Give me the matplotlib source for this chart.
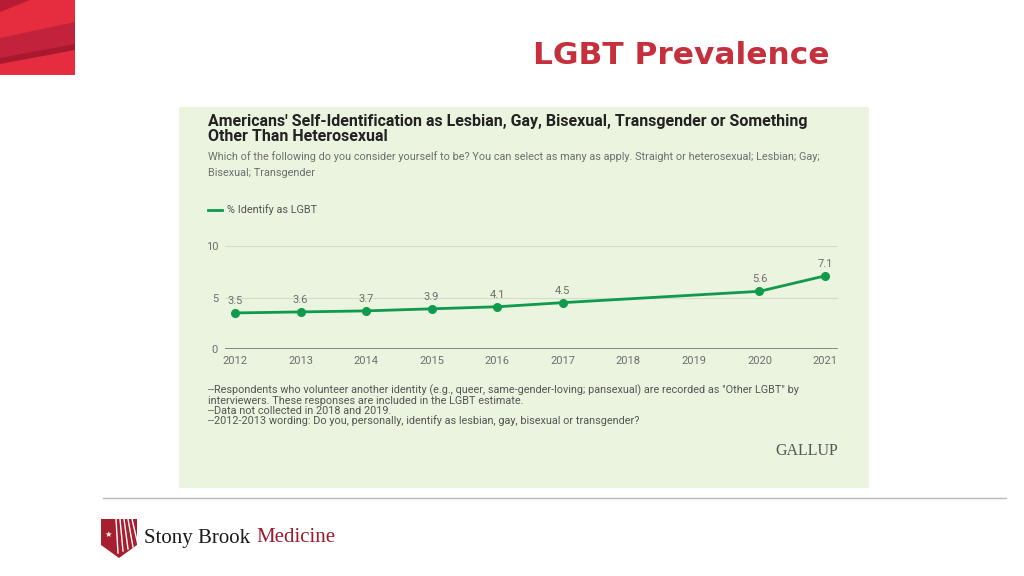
import numpy as np
import matplotlib
matplotlib.use("Agg")
import matplotlib.pyplot as plt
from matplotlib.patches import Rectangle, Polygon
from matplotlib.lines import Line2D

years = [2012, 2013, 2014, 2015, 2016, 2017, 2020, 2021]
pct_lgbt = [3.5, 3.6, 3.7, 3.9, 4.1, 4.5, 5.6, 7.1]
xtick_years = list(range(2012, 2022))
ytick_vals = [0, 5, 10]

slide_title = "LGBT Prevalence"
chart_title = ("Americans' Self-Identification as Lesbian, Gay, Bisexual, Transgender or Something\n"
               "Other Than Heterosexual")
chart_sub = ("Which of the following do you consider yourself to be? You can select as many as apply. "
             "Straight or heterosexual; Lesbian; Gay;\nBisexual; Transgender")
legend_label = "% Identify as LGBT"
notes = ["--Respondents who volunteer another identity (e.g., queer, same-gender-loving; pansexual) "
         "are recorded as \"Other LGBT\" by",
         "interviewers. These responses are included in the LGBT estimate.",
         "--Data not collected in 2018 and 2019.",
         "--2012-2013 wording: Do you, personally, identify as lesbian, gay, bisexual or transgender?"]

W, H = 1024, 576
GREEN = "#0f9a4c"
PANEL = "#ebf4de"
GRAY = "#6e6e6e"


def fx(x):
    return x / W


def fy(y):
    return 1 - y / H


fig = plt.figure(figsize=(W / 100, H / 100), dpi=100)
fig.patch.set_facecolor("white")

# top-left decoration
fig.patches.append(Rectangle((0, fy(75)), fx(75), 75 / H, transform=fig.transFigure,
                             facecolor="#e52d3f", edgecolor="none", zorder=-2))
for pts, col in [([(0, 0), (30, 0), (0, 12)], "#b81b34"),
                 ([(0, 38), (75, 22), (75, 48), (0, 62)], "#c3223c"),
                 ([(0, 58), (75, 44), (75, 50), (0, 64)], "#a8192f")]:
    fig.patches.append(Polygon([(fx(a), fy(b)) for a, b in pts], closed=True, zorder=-1,
                               transform=fig.transFigure, facecolor=col, edgecolor="none"))

fig.text(fx(681), fy(55), slide_title, ha="center", va="center", fontsize=22.5,
         fontweight="bold", color="#c5303c", family="DejaVu Sans")

# green panel
fig.patches.append(Rectangle((fx(179), fy(488)), fx(869 - 179), (488 - 107) / H, zorder=-2,
                             transform=fig.transFigure, facecolor=PANEL, edgecolor="none"))

fig.text(fx(208), fy(114), chart_title, ha="left", va="top", fontsize=11.5,
         fontweight="bold", color="#222222", family="Roboto", linespacing=1.02)
fig.text(fx(208), fy(151), chart_sub, ha="left", va="top", fontsize=7.85,
         color=GRAY, family="Roboto", linespacing=1.7)

fig.lines.append(Line2D([fx(208), fx(222)], [fy(210), fy(210)], transform=fig.transFigure,
                        color=GREEN, lw=2))
fig.text(fx(227), fy(210), legend_label, ha="left", va="center", fontsize=7.85,
         color="#555555", family="Roboto")

# chart
ax = fig.add_axes([fx(225), fy(349), fx(838 - 225), (349 - 246) / H])
ax.set_facecolor("none")
ax.set_xlim(2012 - 10 / 65.56, 2021 + 13 / 65.56)
ax.set_ylim(0, 10)
for v in ytick_vals[1:]:
    ax.axhline(v, color="#d6dccc", lw=0.8, zorder=1)
ax.axhline(0, color="#777777", lw=1.2, zorder=1)
for s in ax.spines.values():
    s.set_visible(False)
ax.plot(years, pct_lgbt, color=GREEN, lw=2, marker="o", markersize=5.5, zorder=3, clip_on=False)
for x, v in zip(years, pct_lgbt):
    ax.annotate(f"{v}", (x, v), xytext=(0, 5), textcoords="offset points", ha="center",
                va="bottom", fontsize=8, color=GRAY, family="Roboto")
ax.set_xticks(xtick_years)
ax.set_xticklabels([str(y) for y in xtick_years])
ax.set_yticks(ytick_vals)
ax.tick_params(length=0, labelsize=8, labelcolor=GRAY, pad=5)
for lab in ax.get_xticklabels() + ax.get_yticklabels():
    lab.set_family("Roboto")

fig.text(fx(208), fy(384), "\n".join(notes), ha="left", va="top", fontsize=7.8,
         color="#555555", family="Roboto", linespacing=1.0)
fig.text(fx(838), fy(451), "GALLUP", ha="right", va="center", fontsize=11.5,
         color="#555555", family="Liberation Serif")

# footer
fig.lines.append(Line2D([fx(103), fx(1006)], [fy(498), fy(498)], transform=fig.transFigure,
                        color="#bbbbbb", lw=1))
shield = [(101, 519), (137, 519), (137, 545), (119, 558), (101, 545)]
fig.patches.append(Polygon([(fx(a), fy(b)) for a, b in shield], closed=True,
                           transform=fig.transFigure, facecolor="#a51f2f", edgecolor="none"))
for k in range(5):
    x0 = 116 + k * 4
    fig.lines.append(Line2D([fx(x0), fx(x0 + 2 + k)], [fy(519), fy(553 - k * 2)],
                            transform=fig.transFigure, color="white", lw=1))
fig.text(fx(108), fy(534), "\u2605", ha="center", va="center", fontsize=6, color="white",
         family="DejaVu Sans")
fig.text(fx(144), fy(538), "Stony Brook", ha="left", va="center", fontsize=15,
         color="#1a1a1a", family="Liberation Serif")
fig.text(fx(256), fy(538), "Medicine", ha="left", va="center", fontsize=15,
         color="#9c1c2c", family="Liberation Serif")

fig.savefig("out.png", dpi=100)
